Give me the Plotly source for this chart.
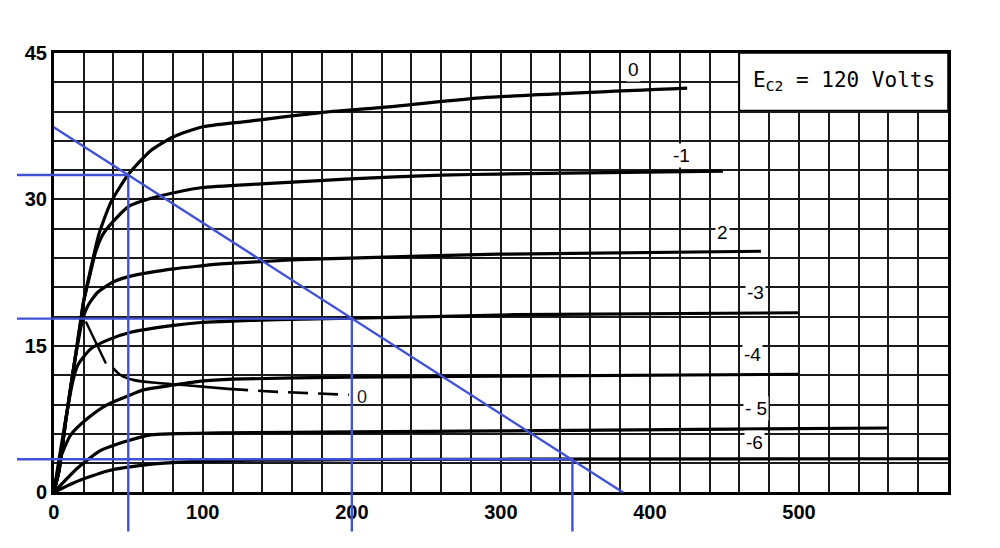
import plotly.graph_objects as go

# plate voltage (x) / plate current (y)
v_g0 = [0, 3.5, 8, 13.6, 18, 20, 24.8, 30.2, 38.3, 49.7, 58.4, 65, 80, 98.7, 130, 179, 219.5, 286.6, 425]
i_g0 = [0, 2.2, 7.3, 13, 17.5, 19.6, 22.9, 26.4, 29.7, 32.5, 34, 35, 36.4, 37.4, 38, 38.9, 39.4, 40.4, 41.4]

v_g1 = [0, 3.5, 8, 13.6, 18, 20, 24.8, 28, 32.9, 39.6, 50.3, 58.4, 69.8, 98.7, 139, 199, 260, 298, 449]
i_g1 = [0, 2.2, 7.3, 13, 17.5, 19.5, 22.6, 24.6, 26.4, 27.7, 29.3, 29.8, 30.3, 31.2, 31.6, 32.1, 32.5, 32.6, 32.9]

v_g2 = [0, 3.5, 8, 13.6, 19.5, 22.8, 29.5, 40.5, 56, 80.5, 98.7, 112, 159, 199, 298, 474.5]
i_g2 = [0, 2.2, 7.3, 13, 17.8, 19.1, 20.5, 21.6, 22.3, 22.9, 23.2, 23.4, 23.8, 24.0, 24.4, 24.7]

v_g3 = [0, 4, 8, 12.8, 16, 24.8, 36, 51.7, 80.5, 98.7, 112, 150, 200, 255, 309, 500]
i_g3 = [0, 3.8, 7.5, 11.4, 13, 14.7, 15.6, 16.4, 17.1, 17.4, 17.5, 17.7, 17.85, 18.0, 18.2, 18.4]

v_g4 = [0, 4.7, 11.4, 22.8, 36, 51.7, 60, 80.5, 98.7, 120, 200, 295, 500]
i_g4 = [0, 3.6, 5.9, 7.6, 9, 10, 10.5, 11.0, 11.4, 11.6, 11.8, 11.9, 12.1]

v_g5 = [0, 16, 31.5, 49.7, 65, 112, 200, 300, 560]
i_g5 = [0, 2.5, 4.3, 5.3, 5.9, 6.1, 6.2, 6.3, 6.6]

v_g6 = [0, 13.6, 36, 63, 112, 200, 300, 600]
i_g6 = [0, 1.0, 2.2, 2.85, 3.25, 3.35, 3.4, 3.45]

curves = [(v_g0, i_g0), (v_g1, i_g1), (v_g2, i_g2), (v_g3, i_g3),
          (v_g4, i_g4), (v_g5, i_g5), (v_g6, i_g6)]

# screen current, Eg = 0 (dashed)
scr_stroke_v = [21.5, 35]
scr_stroke_i = [17.5, 13.2]
scr_solid_v = [40, 45, 54, 70, 87, 117]
scr_solid_i = [12.7, 12.0, 11.5, 11.2, 11.0, 10.6]
scr_dash_v = [117, 150, 198]
scr_dash_i = [10.6, 10.3, 10.0]

# curve labels
lbl_text = ["0", "-1", "2", "-3", "-4", "- 5", "-6"]
lbl_v = [389, 421, 449, 471, 469, 471, 470]
lbl_i = [43.3, 34.5, 26.6, 20.5, 14.1, 8.6, 5.1]

# load line and operating points (blue)
load_v = [0, 382]
load_i = [37.4, 0]
op_v = [50, 200, 348]
op_i = [32.5, 17.8, 3.4]
left_stub = -25.5
bottom_stub = -4.0

X_RANGE = [0, 600]
Y_RANGE = [0, 45]

# page body has an 8px margin, so the figure is 8px smaller and shifted
W, H = 992, 540
ML, MR, MT, MB = 3, 52, 45, 9
frame_left, frame_bottom = 40, 489
dx = (frame_left - ML) / (W - ML - MR)
dy = (H - MB - frame_bottom) / (H - MT - MB)

fig = go.Figure()

for v, i in curves:
    fig.add_trace(go.Scatter(x=v, y=i, mode="lines",
                             line=dict(color="black", width=3.2, shape="spline", smoothing=0.6),
                             hoverinfo="skip"))

fig.add_trace(go.Scatter(x=scr_stroke_v, y=scr_stroke_i, mode="lines",
                         line=dict(color="black", width=2.4)))
fig.add_trace(go.Scatter(x=scr_solid_v, y=scr_solid_i, mode="lines",
                         line=dict(color="black", width=2.6, shape="spline")))
fig.add_trace(go.Scatter(x=scr_dash_v, y=scr_dash_i, mode="lines",
                         line=dict(color="black", width=2.6, dash="20px,10px")))

blue = "#4252d4"
# blue construction lines on an overlay subplot that reaches into the margins
fig.add_trace(go.Scatter(x=load_v, y=load_i, mode="lines", xaxis="x2", yaxis="y2",
                         line=dict(color=blue, width=2.4)))
for v, i in zip(op_v, op_i):
    fig.add_trace(go.Scatter(x=[left_stub, v, v], y=[i, i, bottom_stub], mode="lines",
                             xaxis="x2", yaxis="y2", line=dict(color=blue, width=2.4)))

for t, v, i in zip(lbl_text, lbl_v, lbl_i):
    fig.add_annotation(x=v, y=i, text=t, showarrow=False, bgcolor="white",
                       font=dict(family="Liberation Sans", size=19, color="black"))
fig.add_annotation(x=207, y=9.8, text="0", showarrow=False,
                   font=dict(family="Liberation Sans", size=18, color="#222"))

fig.add_shape(type="rect", x0=460, x1=600, y0=39.1, y1=45, xref="x", yref="y",
              fillcolor="white", line=dict(color="black", width=1.5), layer="above")
fig.add_annotation(x=530, y=42.1, text="E<sub>C2</sub> = 120 Volts", showarrow=False,
                   font=dict(family="DejaVu Sans Mono", size=21, color="black"))

grid = "#1a1a1a"
x2_lo = -X_RANGE[1] * dx / (1 - dx)
y2_lo = -Y_RANGE[1] * dy / (1 - dy)

fig.update_layout(
    width=W, height=H,
    margin=dict(l=ML, r=MR, t=MT, b=MB),
    paper_bgcolor="white", plot_bgcolor="rgba(0,0,0,0)",
    showlegend=False,
    xaxis=dict(domain=[dx, 1], range=X_RANGE, tickvals=[0, 100, 200, 300, 400, 500],
               showgrid=True, gridcolor=grid, gridwidth=1.8, zeroline=False,
               showline=True, linecolor="black", linewidth=2.5, mirror=True, ticks="",
               tickfont=dict(family="Liberation Sans", size=20, color="black", weight="bold"),
               minor=dict(dtick=20, showgrid=True, gridcolor=grid, gridwidth=1.8),
               anchor="y"),
    yaxis=dict(domain=[dy, 1], range=Y_RANGE, tickvals=[0, 15, 30, 45],
               showgrid=True, gridcolor=grid, gridwidth=1.8, zeroline=False,
               showline=True, linecolor="black", linewidth=2.5, mirror=True, ticks="",
               tickfont=dict(family="Liberation Sans", size=20, color="black", weight="bold"),
               minor=dict(dtick=3, showgrid=True, gridcolor=grid, gridwidth=1.8),
               anchor="x", ticklabelstandoff=0),
    xaxis2=dict(domain=[0, 1], range=[x2_lo, X_RANGE[1]], visible=False, anchor="y2"),
    yaxis2=dict(domain=[0, 1], range=[y2_lo, Y_RANGE[1]], visible=False, anchor="x2"),
)

fig.write_html("out.html")
